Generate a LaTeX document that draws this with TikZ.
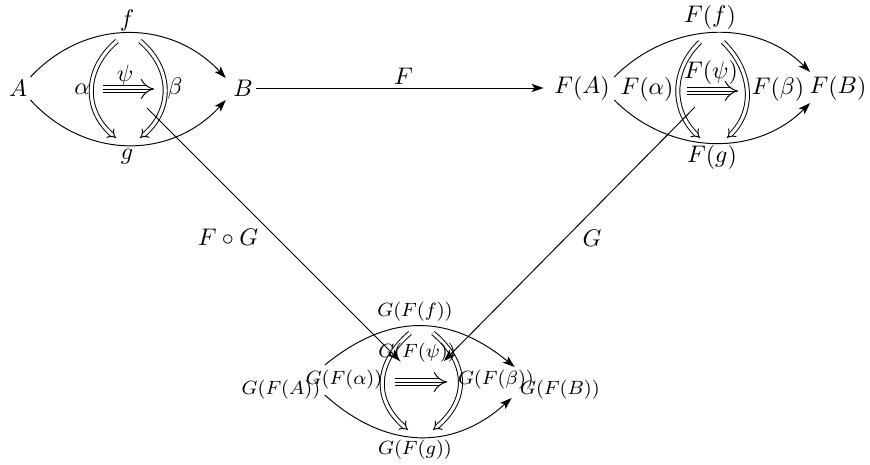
\documentclass[tikz,border=0pt]{standalone}
\usepackage{tikz}
\usetikzlibrary{arrows.meta}
\tikzset{
  arr/.style={-{Stealth[length=5pt,width=3.4pt,inset=1.2pt]}},
  dbl/.style={double, double distance=1.3pt, -{Implies}},
  trpl/.style={double, double distance=2.6pt, -{Implies}},
  small/.style={font=\footnotesize}
}

\begin{document}
\begin{tikzpicture}[x=0.4167pt, y=0.4167pt, every node/.style={inner sep=1.25pt}]
    \useasboundingbox (0,0) rectangle (870,464);

    % objects
    \node (A) at (18,376) {$A$};
    \node (B) at (243,376) {$B$};
    \node (FA) at (582,376) {$F(A)$};
    \node (FB) at (838,376) {$F(B)$};
    \node[small] (GFA) at (281,74) {$G(F(A))$};
    \node[small] (GFB) at (560,74) {$G(F(B))$};

    % 2-cell psi : f => g
    \node (f) at (127,444) {$f$};
    \node (g) at (127,307) {$g$};
    \draw[arr] ([shift={(0,11)}]A.east) .. controls +(55,59) and +(-55,59) .. ([shift={(-4,10)}]B.west);
    \draw[arr] ([shift={(0,-12)}]A.east) .. controls +(55,-60) and +(-55,-60) .. ([shift={(-4,-12)}]B.west);
    \coordinate (al1) at (117,423); \coordinate (al2) at (116,326);
    \coordinate (be1) at (140,423); \coordinate (be2) at (140,326);
    \draw[dbl] (al1) .. controls +(-33,-28) and +(-33,28) .. (al2);
    \draw[dbl] (be1) .. controls +(33,-28) and +(33,28) .. (be2);
    \coordinate (ps1) at (103,375); \coordinate (ps2) at (154,375);
    \draw[trpl] (ps1) -- (ps2);
    \draw[shorten >=0.5pt] (ps1) -- (ps2);
    \node (alpha) at (82,375) {$\alpha$};
    \node (beta) at (175,375) {$\beta$};
    \node (psi) at (125,388) {$\psi$};

    % its image under F
    \node (Ff) at (710,447) {$F(f)$};
    \node (Fg) at (712,307) {$F(g)$};
    \draw[arr] ([shift={(1,11)}]FA.east) .. controls +(55,55) and +(-55,55) .. ([shift={(4,16)}]FB.west);
    \draw[arr] ([shift={(1,-12)}]FA.east) .. controls +(55,-55) and +(-55,-55) .. ([shift={(4,-15)}]FB.west);
    \coordinate (Fal1) at (700,422); \coordinate (Fal2) at (700,326);
    \coordinate (Fbe1) at (723,422); \coordinate (Fbe2) at (727,326);
    \draw[dbl] (Fal1) .. controls +(-29,-28) and +(-29,28) .. (Fal2);
    \draw[dbl] (Fbe1) .. controls +(29,-28) and +(29,28) .. (Fbe2);
    \coordinate (Fps1) at (687,373); \coordinate (Fps2) at (738,373);
    \draw[trpl] (Fps1) -- (Fps2);
    \draw[shorten >=0.5pt] (Fps1) -- (Fps2);
    \node (Falpha) at (647,375) {$F(\alpha)$};
    \node (Fbeta) at (778,375) {$F(\beta)$};
    \node (Fpsi) at (711,392) {$F(\psi)$};

    % and under G after F
    \node[small] (GFf) at (415,152) {$G(F(f))$};
    \node[small] (GFg) at (415,14) {$G(F(g))$};
    \draw[arr] ([shift={(1,25)}]GFA.east) .. controls +(65,53) and +(-65,53) .. ([shift={(-2,23)}]GFB.west);
    \draw[arr] ([shift={(1,-5)}]GFA.east) .. controls +(60,-54) and +(-60,-54) .. ([shift={(-5,-8)}]GFB.west);
    \coordinate (GFal1) at (410,131); \coordinate (GFal2) at (408,34);
    \coordinate (GFbe1) at (433,131); \coordinate (GFbe2) at (433,34);
    \draw[dbl] (GFal1) .. controls +(-35,-30) and +(-35,30) .. (GFal2);
    \draw[dbl] (GFbe1) .. controls +(36,-30) and +(36,30) .. (GFbe2);
    \coordinate (GFps1) at (395,82); \coordinate (GFps2) at (447,82);
    \draw[trpl] (GFps1) -- (GFps2);
    \draw[shorten >=0.5pt] (GFps1) -- (GFps2);
    \node[small] (GFalpha) at (344,84) {$G(F(\alpha))$};
    \node[small] (GFbeta) at (496,84) {$G(F(\beta))$};
    \node[small] (GFpsi) at (417,111) {$G(F(\psi))$};

    % functors
    \coordinate (cL) at (147,356);
    \coordinate (cR) at (695,357);
    \coordinate (cB1) at (400,103);
    \coordinate (cB2) at (444,103);
    \draw[arr, shorten >=3pt] (B) -- node[above] (Flab) {$F$} (FA);
    \draw[arr] (cL) -- (cB1);
    \draw[arr] (cR) -- (cB2);
    \node (FGlab) at (228,227) {$F\circ G$};
    \node (Glab) at (592,226) {$G$};
\end{tikzpicture}
\end{document}
